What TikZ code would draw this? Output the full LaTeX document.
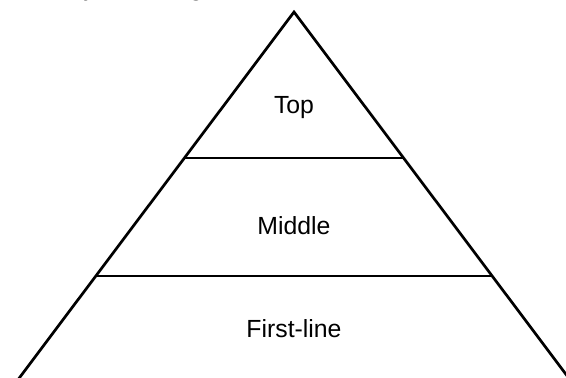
\documentclass[tikz,border=0pt]{standalone}
\usepackage{fontspec}
\setmainfont{Liberation Sans}
\begin{document}
\begin{tikzpicture}[x=1pt,y=-1pt,
  edge/.style={line width=2.7pt, line join=miter},
  tier/.style={font=\fontsize{24.8}{28}\selectfont, inner sep=0pt},
  heading/.style={font=\fontsize{26}{30}\selectfont\itshape, inner sep=0pt, anchor=base}]
\useasboundingbox (0,0) rectangle (566,378);
\begin{scope}
\clip (0,0) rectangle (566,378);
% outline of the pyramid
\coordinate (apex) at (294,12);
\coordinate (bl) at (11,389);
\coordinate (br) at (577,389);
\coordinate (t1l) at (184,158);
\coordinate (t1r) at (404,158);
\coordinate (t2l) at (95.5,276);
\coordinate (t2r) at (492.5,276);
\draw[edge] (bl) -- (apex) -- (br);
\draw[edge] (t1l) -- (t1r);
\draw[edge] (t2l) -- (t2r);
% tier labels
\node[tier] (top) at (294,108) {Top};
\node[tier] (mid) at (294,226) {Middle};
\node[tier] (base) at (294,329) {First-line};
% heading line above the picture, only its descenders reach in
\node[heading] (h1) at (92,-5) {y};
\node[heading] (h2) at (198,-5) {g};
\end{scope}
\end{tikzpicture}
\end{document}
